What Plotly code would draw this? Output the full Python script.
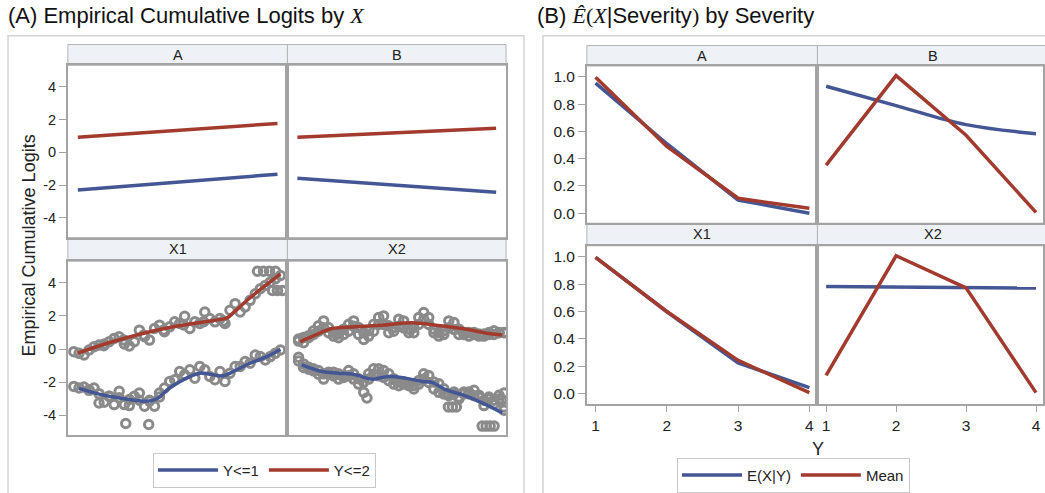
import plotly.graph_objects as go

# ---------------- DATA ----------------
# Panel A, top row (facets A, B): empirical cumulative logits vs X (scaled 0..1)
facetA_x = [0.0, 1.0]
facetA_le1 = [-2.30, -1.34]
facetA_le2 = [0.92, 1.76]
facetB_x = [0.0, 1.0]
facetB_le1 = [-1.58, -2.44]
facetB_le2 = [0.92, 1.46]

# Panel A, X1 facet: smoothed lines
x1_le2_line_x = [0.0, 0.157, 0.325, 0.460, 0.577, 0.729, 0.748, 0.780, 0.863, 1.015]
x1_le2_line_y = [-0.24, 0.38, 0.94, 1.30, 1.54, 1.82, 1.88, 2.20, 3.10, 4.54]
x1_le1_line_x = [0.006, 0.073, 0.157, 0.241, 0.342, 0.393, 0.460, 0.544, 0.611, 0.678, 0.729, 0.779, 0.863, 0.948, 1.015]
x1_le1_line_y = [-2.36, -2.62, -2.86, -3.02, -3.16, -3.02, -2.36, -1.76, -1.46, -1.56, -1.62, -1.36, -0.86, -0.46, -0.02]

# Panel A, X1 facet: empirical logits (points)
x1_grid = [-0.020, 0.006, 0.031, 0.056, 0.081, 0.106, 0.132, 0.157, 0.182, 0.207, 0.233, 0.258, 0.283, 0.308,
           0.334, 0.359, 0.384, 0.409, 0.434, 0.460, 0.485, 0.510, 0.535, 0.561, 0.586, 0.611, 0.636, 0.661,
           0.687, 0.712, 0.737, 0.762, 0.788, 0.813, 0.838, 0.863, 0.889, 0.914, 0.939, 0.964, 0.989, 1.015]
x1_le2_pts = [-0.16, -0.26, -0.36, -0.06, 0.14, 0.24, 0.30, 0.44, 0.64, 0.74, 0.30, 0.18, 0.44, 1.14,
              0.74, 0.54, 1.24, 1.44, 1.04, 1.34, 1.64, 1.54, 1.98, 1.24, 1.64, 1.54, 2.24, 1.84,
              1.64, 1.84, 1.54, 2.34, 2.74, 2.24, 2.54, 2.94, 3.34, 3.64, 3.84, 4.04, 4.24, 4.44]
x1_le1_pts = [-2.26, -2.36, -2.30, -2.46, -2.36, -3.26, -3.22, -2.86, -3.36, -2.56, -3.36, -3.42, -2.86, -2.66,
              -3.46, -3.16, -3.46, -2.66, -2.36, -1.96, -1.86, -1.36, -1.56, -1.26, -1.76, -1.06, -1.26, -1.66,
              -1.86, -1.36, -1.96, -1.46, -1.06, -1.06, -0.76, -0.86, -0.36, -0.46, -0.66, -0.46, -0.26, -0.06]
x1_extra_x = [0.13, 0.23, 0.33, 0.43, 0.53, 0.63, 0.73, 0.90, 0.93, 0.96, 0.99, 0.975, 1.0, 1.025,
              0.056, 0.106, 0.157, 0.207, 0.258, 0.308, 0.359, 0.409, 0.24, 0.355]
x1_extra_y = [0.20, 0.55, 0.85, 1.15, 1.45, 1.65, 1.70, 4.70, 4.70, 4.70, 4.70, 3.54, 3.54, 3.54,
              -2.50, -2.70, -2.85, -2.95, -3.05, -3.10, -3.10, -2.90, -4.50, -4.56]

# Panel A, X2 facet: smoothed lines
x2_le2_line_x = [0.014, 0.090, 0.174, 0.292, 0.426, 0.577, 0.695, 0.829, 0.964, 1.031]
x2_le2_line_y = [0.44, 0.84, 1.24, 1.34, 1.44, 1.58, 1.44, 1.24, 0.94, 0.84]
x2_le1_line_x = [0.022, 0.123, 0.207, 0.292, 0.376, 0.460, 0.544, 0.628, 0.678, 0.746, 0.829, 0.930, 1.031]
x2_le1_line_y = [-0.96, -1.36, -1.46, -1.56, -1.82, -1.66, -1.76, -1.96, -2.02, -2.46, -2.76, -3.26, -3.86]

# Panel A, X2 facet: empirical logits (points; upper / lower edge of each cluster)
x2_grid = [0.006, 0.031, 0.056, 0.081, 0.106, 0.132, 0.157, 0.182, 0.207, 0.233, 0.258, 0.283, 0.308, 0.334,
           0.359, 0.384, 0.409, 0.434, 0.460, 0.485, 0.510, 0.535, 0.561, 0.586, 0.611, 0.636, 0.661, 0.687,
           0.712, 0.737, 0.762, 0.788, 0.813, 0.838, 0.863, 0.889, 0.914, 0.939, 0.964, 0.989, 1.015, 1.040]
x2_le2_hi = [0.60, 0.70, 0.80, 1.10, 1.40, 1.70, 1.30, 1.00, 0.90, 1.20, 1.50, 1.70, 1.30, 1.00,
             1.10, 1.50, 1.90, 2.00, 1.40, 1.30, 1.80, 1.70, 1.20, 1.30, 1.90, 2.20, 1.90, 1.20,
             1.00, 1.10, 1.70, 1.60, 1.20, 1.00, 1.00, 1.00, 0.90, 0.90, 1.00, 1.10, 1.00, 1.00]
x2_le2_lo = [0.48, 0.38, 0.68, 0.88, 1.08, 1.28, 0.98, 0.78, 0.68, 0.88, 1.08, 1.38, 0.88, 0.58,
             0.78, 1.08, 1.48, 1.48, 0.98, 1.08, 1.38, 1.28, 0.98, 0.98, 1.48, 1.78, 1.48, 0.98,
             0.78, 0.88, 1.28, 1.18, 0.88, 0.88, 0.78, 0.88, 0.78, 0.78, 0.88, 0.88, 0.98, 0.98]
x2_le1_hi = [-0.50, -0.90, -1.10, -1.20, -1.30, -1.50, -1.40, -1.40, -1.50, -1.60, -1.30, -1.50, -1.80, -2.00,
             -1.50, -1.20, -1.20, -1.30, -1.50, -1.80, -2.00, -2.00, -2.10, -2.20, -1.90, -1.50, -1.60, -2.00,
             -2.10, -2.40, -2.70, -2.60, -2.90, -2.60, -2.60, -2.50, -2.80, -3.10, -2.90, -3.10, -2.80, -3.50]
x2_le1_lo = [-0.72, -1.12, -1.22, -1.32, -1.52, -1.82, -1.52, -1.62, -1.82, -1.72, -1.62, -1.82, -2.12, -2.62,
             -1.82, -1.52, -1.62, -1.72, -1.92, -2.12, -2.22, -2.12, -2.22, -2.42, -2.12, -1.82, -2.02, -2.42,
             -2.62, -2.72, -2.82, -2.72, -3.02, -2.72, -2.72, -2.82, -2.92, -3.42, -3.02, -3.32, -3.02, -3.70]
x2_extra_x = [0.76, 0.78, 0.80, 0.93, 0.95, 0.97, 0.99, 0.35, 1.04, 1.03]
x2_extra_y = [-3.50, -3.50, -3.50, -4.66, -4.66, -4.66, -4.66, -2.96, -2.66, -3.06]

# Panel B: E(X|Y) and mean by severity Y
severity = [1, 2, 3, 4]
bA_exy = [0.954, 0.510, 0.097, 0.000]
bA_mean = [0.998, 0.490, 0.110, 0.036]
bB_exy = [0.932, 0.790, 0.650, 0.584]
bB_mean = [0.353, 1.010, 0.572, 0.007]
bX1_exy = [0.995, 0.598, 0.224, 0.043]
bX1_mean = [0.995, 0.600, 0.243, 0.007]
bX2_exy = [0.783, 0.779, 0.775, 0.771]
bX2_mean = [0.133, 1.007, 0.773, 0.007]

logit_ticks = [-4, -2, 0, 2, 4]
logit_ticktext = ['-4', '-2', '0', '2', '4']
prob_ticks = [0.0, 0.2, 0.4, 0.6, 0.8, 1.0]
prob_ticktext = ['0.0', '0.2', '0.4', '0.6', '0.8', '1.0']
sev_ticks = [1, 2, 3, 4]

# ---------------- STYLE ----------------
W, H = 1045, 493
BLUE = '#445694'
RED = '#A23A2E'
GRAY = '#8a8a8a'
AX = '#a3a3a3'
TXT = '#222222'
FONT = 'Liberation Sans, Arial, Helvetica, sans-serif'


def fx(p):
    return p / W


def fy(p):
    return 1 - p / H


fig = go.Figure()


def add_points(x, y, xa, ya):
    fig.add_trace(go.Scatter(x=x, y=y, mode='markers', xaxis=xa, yaxis=ya, showlegend=False,
                             hoverinfo='skip',
                             marker=dict(symbol='circle-open', size=8.5, color=GRAY,
                                         line=dict(color=GRAY, width=3))))


def add_line(x, y, xa, ya, color, name, legend, show, shape='linear'):
    fig.add_trace(go.Scatter(x=x, y=y, mode='lines', xaxis=xa, yaxis=ya, name=name,
                             legend=legend, showlegend=show, legendgroup=legend + name,
                             line=dict(color=color, width=3.5, shape=shape)))


# Panel A top row
add_line(facetA_x, facetA_le1, 'x', 'y', BLUE, 'Y<=1', 'legend', True)
add_line(facetA_x, facetA_le2, 'x', 'y', RED, 'Y<=2', 'legend', True)
add_line(facetB_x, facetB_le1, 'x2', 'y2', BLUE, 'Y<=1', 'legend', False)
add_line(facetB_x, facetB_le2, 'x2', 'y2', RED, 'Y<=2', 'legend', False)

# Panel A bottom row: X1
add_points(x1_grid, x1_le2_pts, 'x3', 'y3')
add_points(x1_grid, x1_le1_pts, 'x3', 'y3')
add_points(x1_extra_x, x1_extra_y, 'x3', 'y3')
add_line(x1_le1_line_x, x1_le1_line_y, 'x3', 'y3', BLUE, 'Y<=1', 'legend', False, 'spline')
add_line(x1_le2_line_x, x1_le2_line_y, 'x3', 'y3', RED, 'Y<=2', 'legend', False, 'spline')

# Panel A bottom row: X2
add_points(x2_grid, x2_le2_hi, 'x4', 'y4')
add_points(x2_grid, x2_le2_lo, 'x4', 'y4')
add_points(x2_grid, x2_le1_hi, 'x4', 'y4')
add_points(x2_grid, x2_le1_lo, 'x4', 'y4')
add_points(x2_extra_x, x2_extra_y, 'x4', 'y4')
add_line(x2_le1_line_x, x2_le1_line_y, 'x4', 'y4', BLUE, 'Y<=1', 'legend', False, 'spline')
add_line(x2_le2_line_x, x2_le2_line_y, 'x4', 'y4', RED, 'Y<=2', 'legend', False, 'spline')

# Panel B
add_line(severity, bA_exy, 'x5', 'y5', BLUE, 'E(X|Y)', 'legend2', True)
add_line(severity, bA_mean, 'x5', 'y5', RED, 'Mean', 'legend2', True)
add_line(severity, bB_exy, 'x6', 'y6', BLUE, 'E(X|Y)', 'legend2', False, 'spline')
add_line(severity, bB_mean, 'x6', 'y6', RED, 'Mean', 'legend2', False)
add_line(severity, bX1_exy, 'x7', 'y7', BLUE, 'E(X|Y)', 'legend2', False)
add_line(severity, bX1_mean, 'x7', 'y7', RED, 'Mean', 'legend2', False)
add_line(severity, bX2_exy, 'x8', 'y8', BLUE, 'E(X|Y)', 'legend2', False)
add_line(severity, bX2_mean, 'x8', 'y8', RED, 'Mean', 'legend2', False)

# ---------------- AXES ----------------
base = dict(showline=True, mirror=True, linecolor=AX, linewidth=1.6, showgrid=False,
            zeroline=False, tickfont=dict(family=FONT, size=14.5, color=TXT))
noticks = dict(ticks='', showticklabels=False)

L1 = [fx(68), fx(288)]
L2 = [fx(288), fx(507)]
LT = [fy(240), fy(66)]
LB = [fy(439.5), fy(264)]
R1 = [fx(588), fx(819)]
R2 = [fx(819), 1.0]
RT = [fy(225.5), fy(66.7)]
RB = [fy(407.7), fy(248.3)]

xl = dict(range=[-0.05, 1.05], **base, **noticks)
ylog = dict(range=[-5.2, 5.3], **base)
ylog_lab = dict(ylog, tickvals=logit_ticks, ticktext=logit_ticktext, ticks='outside', ticklen=7,
                tickcolor=AX, tickwidth=1.3)
ylog_nolab = dict(ylog, **noticks)

yp = dict(range=[-0.073, 1.08], **base)
yp_lab = dict(yp, tickvals=prob_ticks, ticktext=prob_ticktext, ticks='outside', ticklen=7,
              tickcolor=AX, tickwidth=1.3)
yp_lab['tickfont'] = dict(family=FONT, size=15.5, color=TXT)
yp_nolab = dict(yp, **noticks)

xr1 = dict(range=[0.878, 4.113], **base)
xr2 = dict(range=[0.876, 4.100], **base)
xr_lab = dict(tickvals=sev_ticks, ticks='outside', ticklen=7, tickcolor=AX, tickwidth=1.3)
xr_font = dict(family=FONT, size=15.5, color=TXT)

fig.update_layout(
    xaxis=dict(xl, domain=L1, anchor='y'),
    xaxis2=dict(xl, domain=L2, anchor='y2'),
    xaxis3=dict(xl, domain=L1, anchor='y3'),
    xaxis4=dict(xl, domain=L2, anchor='y4'),
    yaxis=dict(ylog_lab, domain=LT, anchor='x'),
    yaxis2=dict(ylog_nolab, domain=LT, anchor='x2'),
    yaxis3=dict(ylog_lab, domain=LB, anchor='x3'),
    yaxis4=dict(ylog_nolab, domain=LB, anchor='x4'),
    xaxis5=dict(xr1, domain=R1, anchor='y5', **noticks),
    xaxis6=dict(xr2, domain=R2, anchor='y6', **noticks),
    xaxis7=dict(dict(xr1, tickfont=xr_font), domain=R1, anchor='y7', **xr_lab),
    xaxis8=dict(dict(xr2, tickfont=xr_font), domain=R2, anchor='y8', **xr_lab),
    yaxis5=dict(yp_lab, domain=RT, anchor='x5'),
    yaxis6=dict(yp_nolab, domain=RT, anchor='x6'),
    yaxis7=dict(yp_lab, domain=RB, anchor='x7'),
    yaxis8=dict(yp_nolab, domain=RB, anchor='x8'),
)

# ---------------- STRIPS, FRAMES, TEXT ----------------
shapes = []
annotations = []
STRIP_FILL = '#eef1f6'
STRIP_LINE = '#b4b4b4'


def strip(x0, x1, y0, y1, label):
    shapes.append(dict(type='rect', xref='paper', yref='paper', x0=fx(x0), x1=fx(x1),
                       y0=fy(y1), y1=fy(y0), fillcolor=STRIP_FILL,
                       line=dict(color=STRIP_LINE, width=1), layer='below'))
    annotations.append(dict(xref='paper', yref='paper', x=fx((x0 + x1) / 2), y=fy((y0 + y1) / 2),
                            text=label, showarrow=False, xanchor='center', yanchor='middle',
                            font=dict(family=FONT, size=14.5, color=TXT)))


# outer frames
shapes.append(dict(type='rect', xref='paper', yref='paper', x0=fx(8), x1=fx(525), y0=-0.02, y1=fy(36),
                   line=dict(color='#d4d4d4', width=1.5), fillcolor='rgba(0,0,0,0)', layer='below'))
shapes.append(dict(type='rect', xref='paper', yref='paper', x0=fx(544), x1=1.02, y0=-0.02, y1=fy(36),
                   line=dict(color='#d4d4d4', width=1.5), fillcolor='rgba(0,0,0,0)', layer='below'))

strip(68, 288, 45, 66, 'A')
strip(288, 507, 45, 66, 'B')
strip(68, 288, 240, 264, 'X1')
strip(288, 507, 240, 264, 'X2')
strip(588, 819, 46, 66.7, 'A')
strip(819, 1050, 46, 66.7, 'B')
strip(588, 819, 225.5, 248.3, 'X1')
strip(819, 1050, 225.5, 248.3, 'X2')

annotations.append(dict(xref='paper', yref='paper', x=fx(6), y=fy(16), xanchor='left', yanchor='middle',
                        showarrow=False,
                        text="(A) Empirical Cumulative Logits by <span style=\"font-family:'Liberation Serif'\"><i>X</i></span>",
                        font=dict(family=FONT, size=22, color='#111')))
annotations.append(dict(xref='paper', yref='paper', x=fx(536), y=fy(16), xanchor='left', yanchor='middle',
                        showarrow=False,
                        text="(B) <span style=\"font-family:'Liberation Serif'\"><i>Ê</i>(<i>X</i></span>|Severity<span style=\"font-family:'Liberation Serif'\">)</span> by Severity",
                        font=dict(family=FONT, size=22, color='#111')))
annotations.append(dict(xref='paper', yref='paper', x=fx(30), y=fy(248), textangle=-90, showarrow=False,
                        xanchor='center', yanchor='middle', text='Empirical Cumulative Logits',
                        font=dict(family=FONT, size=18, color=TXT)))
annotations.append(dict(xref='paper', yref='paper', x=fx(820), y=fy(454), showarrow=False,
                        xanchor='center', yanchor='middle', text='Y',
                        font=dict(family=FONT, size=18, color=TXT)))

legend_common = dict(orientation='h', xanchor='center', yanchor='middle', bgcolor='white',
                     bordercolor='#c8c8c8', borderwidth=1,
                     font=dict(family=FONT, size=15, color=TXT), itemwidth=60,
                     tracegroupgap=0)

fig.update_layout(
    width=W, height=H, autosize=False,
    margin=dict(l=0, r=0, t=0, b=0),
    paper_bgcolor='white', plot_bgcolor='white',
    font=dict(family=FONT, color=TXT),
    shapes=shapes, annotations=annotations,
    legend=dict(legend_common, x=fx(265), y=fy(475)),
    legend2=dict(legend_common, x=fx(795), y=fy(480)),
    hovermode=False,
)

fig.write_html('out.html', config={'displayModeBar': False},
               post_script="document.body.style.margin='0px';document.body.style.overflow='hidden';")
